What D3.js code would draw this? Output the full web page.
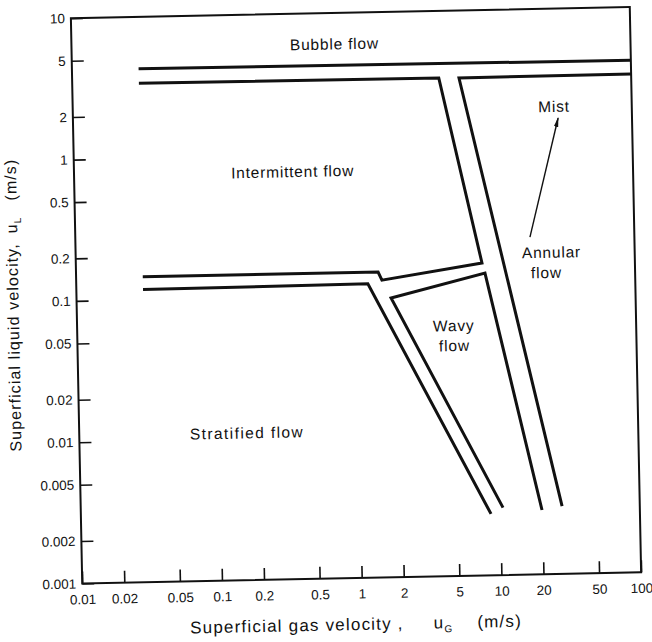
<!DOCTYPE html>
<html>
<head>
<meta charset="utf-8">
<script src="https://d3js.org/d3.v7.min.js"></script>
<style>
  body { margin: 0; background: #fff; }
  text { font-family: "Liberation Sans", Arial, sans-serif; fill: #111; }
</style>
</head>
<body>
<svg width="652" height="642"></svg>
<script>
  // axis ticks
  const xTicks = [0.01, 0.02, 0.05, 0.1, 0.2, 0.5, 1, 2, 5, 10, 20, 50, 100];
  const xTickLabels = ["0.01", "0.02", "0.05", "0.1", "0.2", "0.5", "1", "2", "5", "10", "20", "50", "100"];
  const yTicks = [0.001, 0.002, 0.005, 0.01, 0.02, 0.05, 0.1, 0.2, 0.5, 1, 2, 5, 10];
  const yTickLabels = ["0.001", "0.002", "0.005", "0.01", "0.02", "0.05", "0.1", "0.2", "0.5", "1", "2", "5", "10"];

  // boundary lines, [uG, uL] in m/s
  const bubbleUpper = [[0.03, 4.3], [100, 4.2]];
  const intermittentEdge = [[0.03, 3.4], [4.2, 3.35], [8.05, 0.1625], [1.54, 0.127], [1.45, 0.145], [0.03, 0.145]];
  const annularEdge = [[100, 3.36], [5.86, 3.33], [27.8, 0.00302]];
  const stratifiedEdge = [[0.03, 0.118], [1.22, 0.12], [8.6, 0.00272]];
  const wavyEdge = [[10.5, 0.003], [1.78, 0.0946], [8.43, 0.1377], [19.95, 0.00285]];
  const mistArrow = [[17.9, 0.244], [29.6, 1.68]];

  // region names, left edge of text
  const regionNames = ["Bubble flow", "Intermittent flow", "Mist", "Annular", "flow", "Wavy", "flow", "Stratified flow"];
  const regionAt = [[0.366, 6.03], [0.133, 0.764], [21.4, 2.03], [15.6, 0.189], [18.0, 0.136], [3.52, 0.0591], [3.86, 0.0426], [0.062, 0.011]];

  const margin = {top: 12.6, right: 16.5, bottom: 64, left: 76.5};
  const width = 652 - margin.left - margin.right;
  const height = 642 - margin.top - margin.bottom;

  const svg = d3.select("svg");

  // the scanned figure sits slightly tilted
  const root = svg.append("g").attr("transform", "rotate(-1.15, 356, 295)");
  const g = root.append("g").attr("transform", `translate(${margin.left},${margin.top})`);

  const x = d3.scaleLog().domain([0.01, 100]).range([0, width]);
  const y = d3.scaleLog().domain([0.001, 10]).range([height, 0]);

  const xAxis = g.append("g")
    .attr("transform", `translate(0,${height})`)
    .call(d3.axisBottom(x)
      .tickValues(xTicks)
      .tickFormat((d, i) => xTickLabels[i])
      .tickSizeInner(-12)
      .tickSizeOuter(0)
      .tickPadding(11));

  const yAxis = g.append("g")
    .call(d3.axisLeft(y)
      .tickValues(yTicks)
      .tickFormat((d, i) => yTickLabels[i])
      .tickSizeInner(-12)
      .tickSizeOuter(0)
      .tickPadding(6));

  [xAxis, yAxis].forEach(a => {
    a.select(".domain").remove();
    a.selectAll(".tick line").attr("stroke", "#111").attr("stroke-width", 1.6);
    a.selectAll(".tick text")
      .attr("font-family", "Liberation Sans, Arial, sans-serif")
      .attr("font-size", 13.5)
      .attr("fill", "#111");
  });

  // frame
  g.append("rect")
    .attr("width", width)
    .attr("height", height)
    .attr("fill", "none")
    .attr("stroke", "#111")
    .attr("stroke-width", 2);

  const line = d3.line().x(d => x(d[0])).y(d => y(d[1]));

  g.selectAll(".edge")
    .data([bubbleUpper, intermittentEdge, annularEdge, stratifiedEdge, wavyEdge])
    .enter().append("path")
    .attr("class", "edge")
    .attr("d", line)
    .attr("fill", "none")
    .attr("stroke", "#111")
    .attr("stroke-width", 3)
    .attr("stroke-linejoin", "miter");

  svg.append("defs").append("marker")
    .attr("id", "head")
    .attr("viewBox", "0 0 10 6")
    .attr("refX", 9)
    .attr("refY", 3)
    .attr("markerWidth", 10)
    .attr("markerHeight", 6)
    .attr("markerUnits", "userSpaceOnUse")
    .attr("orient", "auto")
    .append("path")
    .attr("d", "M0,0.8 L10,3 L0,5.2 Z")
    .attr("fill", "#111");

  g.append("path")
    .attr("d", line(mistArrow))
    .attr("stroke", "#111")
    .attr("stroke-width", 1.4)
    .attr("fill", "none")
    .attr("marker-end", "url(#head)");

  g.selectAll(".region")
    .data(regionNames)
    .enter().append("text")
    .attr("class", "region")
    .attr("x", (d, i) => x(regionAt[i][0]))
    .attr("y", (d, i) => y(regionAt[i][1]))
    .attr("dy", "0.35em")
    .attr("font-size", 15.5)
    .attr("letter-spacing", (d, i) => i === 7 ? 1.4 : 0.8)
    .text(d => d);

  // axis titles
  const xTitle = g.append("text")
    .attr("x", 107)
    .attr("y", height + 52)
    .attr("font-size", 17)
    .attr("letter-spacing", 1.2);
  xTitle.append("tspan").text("Superficial gas velocity ,");
  xTitle.append("tspan").attr("dx", 30).text("u");
  xTitle.append("tspan").attr("dy", 4).attr("font-size", 10).text("G");
  xTitle.append("tspan").attr("dx", 24).attr("dy", -4).text("(m/s)");

  const yTitle = g.append("text")
    .attr("transform", `translate(${-58},${height / 2 + 3}) rotate(-90)`)
    .attr("text-anchor", "middle")
    .attr("font-size", 16)
    .attr("letter-spacing", 1.1);
  yTitle.append("tspan").text("Superficial liquid velocity,");
  yTitle.append("tspan").attr("dx", 10).text("u");
  yTitle.append("tspan").attr("dy", 4).attr("font-size", 10).text("L");
  yTitle.append("tspan").attr("dx", 16).attr("dy", -4).text("(m/s)");
</script>
</body>
</html>
